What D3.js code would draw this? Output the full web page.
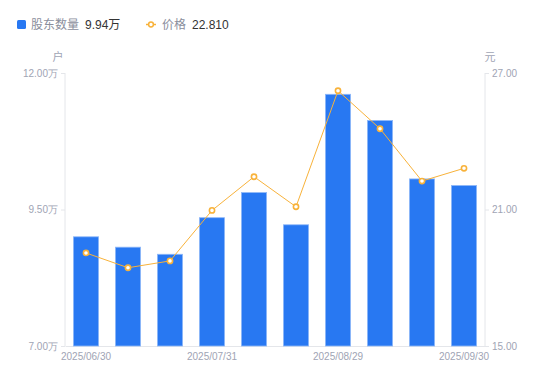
<!DOCTYPE html>
<html>
<head>
<meta charset="utf-8">
<script src="https://cdn.jsdelivr.net/npm/d3@7"></script>
<style>
  html, body { margin: 0; padding: 0; background: #fff; }
  svg { display: block; font-family: "Liberation Sans", "Noto Sans CJK SC", sans-serif; }
</style>
</head>
<body>
<svg id="chart" width="550" height="381"></svg>
<script>
// data
dates = ["2025/06/30", "2025/07/10", "2025/07/20", "2025/07/31", "2025/08/10",
         "2025/08/20", "2025/08/29", "2025/09/10", "2025/09/19", "2025/09/30"]
holders = [9.00, 8.81, 8.68, 9.35, 9.81, 9.22, 11.61, 11.13, 10.06, 9.94]   // 万户
prices = [19.09, 18.44, 18.74, 20.96, 22.44, 21.12, 26.22, 24.55, 22.25, 22.81] // 元
leftTicks = [7.00, 9.50, 12.00]
rightTicks = [15.00, 21.00, 27.00]
shownDates = ["2025/06/30", "2025/07/31", "2025/08/29", "2025/09/30"]

width = 550
height = 381
margin = {top: 73, right: 65, bottom: 35, left: 65}

blue = "#2878f2"
orange = "#f8b23a"
grey = "#a0a4b4"
axisCol = "#e4e6ea"

x = d3.scaleBand()
  .domain(dates)
  .range([margin.left, width - margin.right])
  .paddingInner(0.4)
  .paddingOuter(0.2)

yL = d3.scaleLinear().domain([7, 12]).range([height - margin.bottom, margin.top])
yR = d3.scaleLinear().domain([15, 27]).range([height - margin.bottom, margin.top])

svg = d3.select("#chart")

// left axis
const gL = svg.append("g")
    .attr("transform", `translate(${margin.left},0)`)
    .call(d3.axisLeft(yL).tickValues(leftTicks).tickSize(4).tickPadding(3)
      .tickFormat(d => d3.format(".2f")(d) + "万"))
gL.select(".domain").attr("stroke", axisCol).attr("d", `M0,${yL(12)}V${yL(7)}`)
gL.selectAll(".tick line").attr("stroke", axisCol)
gL.selectAll(".tick text").attr("fill", grey).attr("font-size", 10)

// right axis
const gR = svg.append("g")
    .attr("transform", `translate(${width - margin.right},0)`)
    .call(d3.axisRight(yR).tickValues(rightTicks).tickSize(4).tickPadding(3)
      .tickFormat(d3.format(".2f")))
gR.select(".domain").attr("stroke", axisCol).attr("d", `M0,${yR(27)}V${yR(15)}`)
gR.selectAll(".tick line").attr("stroke", axisCol)
gR.selectAll(".tick text").attr("fill", grey).attr("font-size", 10)

// bottom axis
const gB = svg.append("g")
    .attr("transform", `translate(0,${height - margin.bottom})`)
    .call(d3.axisBottom(x).tickValues(shownDates).tickSize(0).tickPadding(7))
gB.select(".domain").attr("stroke", axisCol)
gB.selectAll(".tick text").attr("fill", grey).attr("font-size", 10)

// units
svg.append("text").attr("x", 58).attr("y", 61).attr("text-anchor", "middle")
  .attr("fill", grey).attr("font-size", 11).text("户")
svg.append("text").attr("x", 490).attr("y", 61).attr("text-anchor", "middle")
  .attr("fill", grey).attr("font-size", 11).text("元")

// bars
svg.append("g")
  .selectAll("rect")
  .data(holders)
  .join("rect")
    .attr("x", (d, i) => x(dates[i]))
    .attr("y", d => yL(d))
    .attr("width", x.bandwidth())
    .attr("height", d => yL(7) - yL(d))
    .attr("fill", blue)
    .attr("stroke", "#8fb8f8")
    .attr("stroke-width", 0.8)

// price line
line = d3.line()
  .x((d, i) => x(dates[i]) + x.bandwidth() / 2)
  .y(d => yR(d))

svg.append("path")
  .datum(prices)
  .attr("fill", "none")
  .attr("stroke", orange)
  .attr("stroke-width", 1)
  .attr("d", line)

svg.append("g")
  .selectAll("circle")
  .data(prices)
  .join("circle")
    .attr("cx", (d, i) => x(dates[i]) + x.bandwidth() / 2)
    .attr("cy", d => yR(d))
    .attr("r", 2.6)
    .attr("fill", "#fff")
    .attr("stroke", orange)
    .attr("stroke-width", 1.6)

// legend
const lg = svg.append("g").attr("font-size", 12)
lg.append("rect").attr("x", 17).attr("y", 20).attr("width", 9).attr("height", 9)
  .attr("rx", 1.5).attr("fill", blue)
lg.append("text").attr("x", 31).attr("y", 29).attr("fill", "#8a8e9c").text("股东数量")
lg.append("text").attr("x", 85).attr("y", 29).attr("fill", "#333").text(d3.format(".2f")(holders[holders.length - 1]) + "万")
lg.append("line").attr("x1", 146).attr("x2", 156).attr("y1", 24.5).attr("y2", 24.5)
  .attr("stroke", orange).attr("stroke-width", 1.5)
lg.append("circle").attr("cx", 151).attr("cy", 24.5).attr("r", 2.4)
  .attr("fill", "#fff").attr("stroke", orange).attr("stroke-width", 1.5)
lg.append("text").attr("x", 162).attr("y", 29).attr("fill", "#8a8e9c").text("价格")
lg.append("text").attr("x", 192).attr("y", 29).attr("fill", "#333").text(d3.format(".3f")(prices[prices.length - 1]))
</script>
</body>
</html>
